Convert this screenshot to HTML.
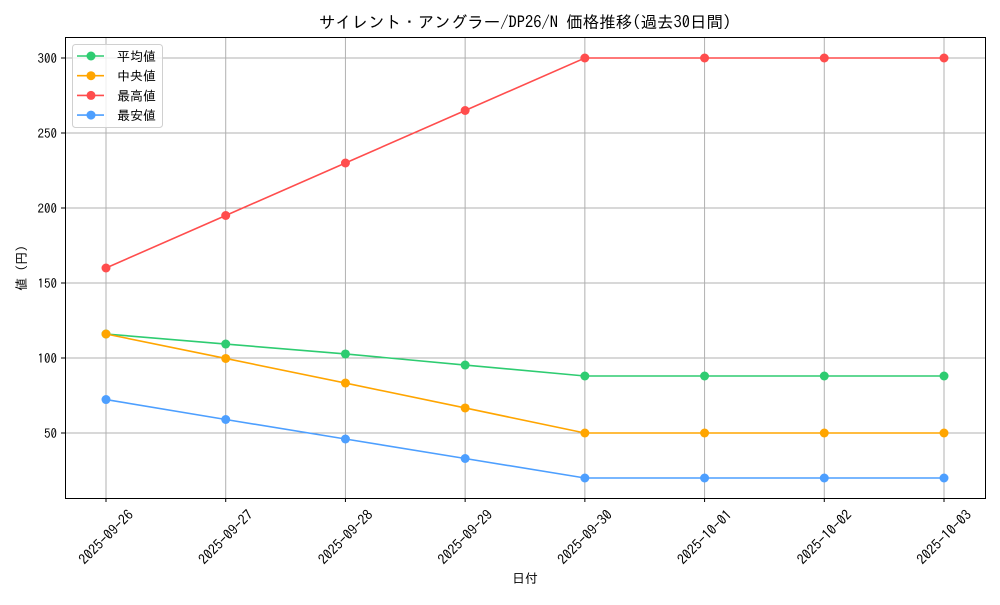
<!DOCTYPE html>
<html><head><meta charset="utf-8"><style>
html,body{margin:0;padding:0;background:#fff;}
svg text{font-family:"IPAGothic","Liberation Sans",sans-serif;fill:#000;}
</style></head><body>
<svg id="chart" width="1000" height="600" xmlns="http://www.w3.org/2000/svg">
<rect width="1000" height="600" fill="#fff"/>
<text x="525" y="28" font-size="16.5" text-anchor="middle">サイレント・アングラー/DP26/N 価格推移(過去30日間)</text>
<g id="grid"></g>
<g id="series"></g>
<rect x="65.5" y="37.5" width="920" height="461" fill="none" stroke="#000" stroke-width="1"/>
<g id="ticks"></g>
<text x="525" y="583" font-size="13" text-anchor="middle">日付</text>
<text transform="translate(26,268) rotate(-90)" font-size="13" text-anchor="middle">値 (円)</text>
<g id="legend"></g>
</svg>
<script>
const categories = ["2025-09-26","2025-09-27","2025-09-28","2025-09-29","2025-09-30","2025-10-01","2025-10-02","2025-10-03"];
const avgValues = [116,109.3,102.7,95.3,88,88,88,88];
const medianValues = [116,99.7,83.3,66.7,50,50,50,50];
const maxValues = [160,195,230,265,300,300,300,300];
const minValues = [72.3,59,46,33,20,20,20,20];
const yTicks = [50,100,150,200,250,300];
const seriesNames = ["平均値","中央値","最高値","最安値"];

const NS="http://www.w3.org/2000/svg";
const x0=106, x1=944;
function xs(i){return x0+(x1-x0)*i/(categories.length-1);}
function ys(v){return 58+(300-v)*1.5;}
function mk(tag,attrs,parent){const e=document.createElementNS(NS,tag);for(const k in attrs)e.setAttribute(k,attrs[k]);parent.appendChild(e);return e;}
const grid=document.getElementById('grid'), ticks=document.getElementById('ticks'), ser=document.getElementById('series'), leg=document.getElementById('legend');
categories.forEach((c,i)=>{
  const x=xs(i);
  const g=mk('line',{x1:x,x2:x,y1:38,y2:498,stroke:'#b0b0b0','stroke-width':1},grid);
  
  
  mk('line',{x1:x,x2:x,y1:498,y2:502,stroke:'#000'},ticks);
  const t=mk('text',{transform:`translate(${x},${537}) rotate(-45)`,'font-size':14,'text-anchor':'middle',dy:5},ticks);
  t.textContent=c;
  
  
});
yTicks.forEach(v=>{
  const y=ys(v);
  const g=mk('line',{x1:65,x2:985,y1:y,y2:y,stroke:'#b0b0b0','stroke-width':1},grid);
  
  
  mk('line',{x1:61,x2:65,y1:y,y2:y,stroke:'#000'},ticks);
  const t=mk('text',{x:57,y:y+5,'font-size':13,'text-anchor':'end'},ticks);
  t.textContent=v;
  
  
});
const all=[avgValues,medianValues,maxValues,minValues];
const colors=["#2ecc71","#ffa500","#ff4d4d","#4d9fff"];
const keys=["avg","median","max","min"];
all.forEach((vals,s)=>{
  const p=mk('polyline',{points:vals.map((v,i)=>xs(i)+','+ys(v)).join(' '),fill:'none',stroke:colors[s],'stroke-width':1.6},ser);
  
  
  vals.forEach((v,i)=>{
    const c=mk('circle',{cx:xs(i),cy:ys(v),r:4.5,fill:colors[s]},ser);
    
    
  });
});
const box=mk('rect',{x:72.5,y:44.5,width:90,height:83,rx:3,fill:'#fff','fill-opacity':0.8,stroke:'#d0d0d0'},leg);


seriesNames.forEach((n,s)=>{
  const y=56+s*19.7;
  mk('line',{x1:77,x2:104,y1:y,y2:y,stroke:colors[s],'stroke-width':1.6},leg);
  mk('circle',{cx:91,cy:y,r:4.5,fill:colors[s]},leg);
  const t=mk('text',{x:117,y:y+5,'font-size':13},leg);
  t.textContent=n;
  
  
});
</script>
</body></html>
